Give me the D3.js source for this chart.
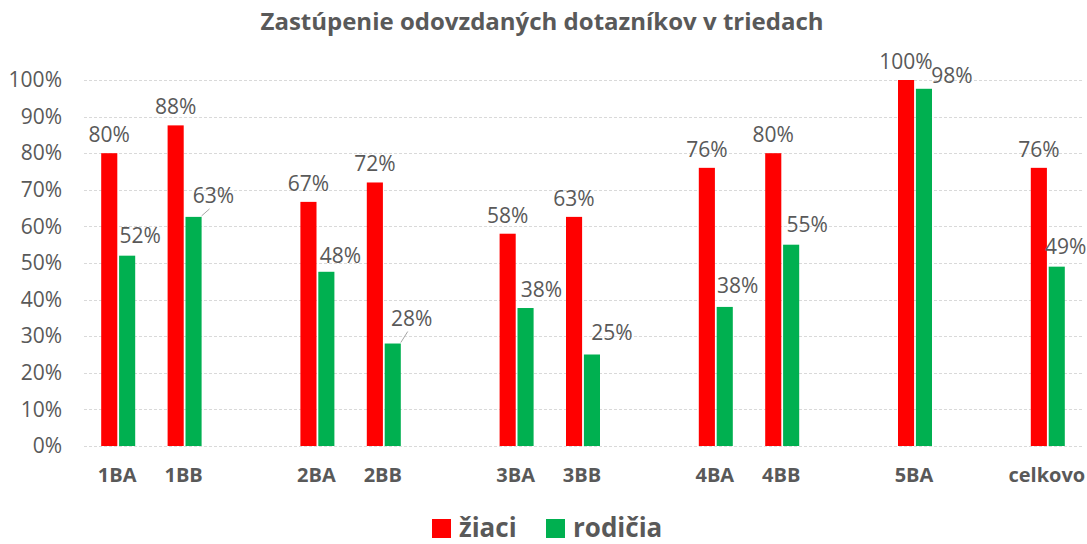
<!DOCTYPE html>
<html>
<head>
<meta charset="utf-8">
<script src="https://cdn.jsdelivr.net/npm/d3@7"></script>
<style>
  body { margin: 0; background: #fff; }
  text { font-family: "Open Sans", sans-serif; }
</style>
</head>
<body>
<div id="chart"></div>
<script>
// data
var categories = ["1BA", "1BB", "", "2BA", "2BB", "", "3BA", "3BB", "", "4BA", "4BB", "", "5BA", "", "celkovo"];
var ziaci   = [0.80, 0.876, null, 0.667, 0.72, null, 0.58, 0.626, null, 0.76, 0.80, null, 1.00, null, 0.76];
var rodicia = [0.52, 0.626, null, 0.476, 0.28, null, 0.377, 0.25, null, 0.38, 0.55, null, 0.976, null, 0.49];
var seriesNames = ["žiaci", "rodičia"];
var yTicks = [0, 0.1, 0.2, 0.3, 0.4, 0.5, 0.6, 0.7, 0.8, 0.9, 1.0];

// label nudges for the green series (moved by hand in the original)
var greenNudge = [[13, -13], [20, -14], null, [14, -9], [19, -18], null, [16, -11], [20, -15], null, [13, -14], [16, -13], null, [28, -6], null, [9, -13]];
var leader = [false, true, false, false, true, false, false, false, false, false, false, false, false, false, false];

var width = 1087, height = 544;
var colors = ["#ff0000", "#00b050"];
var textColor = "#595959";

var svg = d3.select("#chart").append("svg")
    .attr("width", width)
    .attr("height", height);

var x = d3.scaleBand()
    .domain(d3.range(categories.length))
    .range([84, 1080]);

var y = d3.scaleLinear()
    .domain([0, 1])
    .range([446, 80]);

var groupW = 34;
var xSub = d3.scaleBand()
    .domain([0, 1])
    .range([0, groupW])
    .paddingInner(0.1);

function groupLeft(i) {
    return x(i) + (x.bandwidth() - groupW) / 2 + 1;
}

// title
svg.append("text")
    .attr("x", 542)
    .attr("y", 30)
    .attr("text-anchor", "middle")
    .attr("font-size", 24)
    .attr("font-weight", "bold")
    .attr("fill", textColor)
    .text("Zastúpenie odovzdaných dotazníkov v triedach");

// gridlines
svg.append("g")
    .selectAll("line")
    .data(yTicks)
    .enter()
    .append("line")
    .attr("x1", 84)
    .attr("x2", 1082)
    .attr("y1", function(d) { return Math.round(y(d)) + 0.5; })
    .attr("y2", function(d) { return Math.round(y(d)) + 0.5; })
    .attr("stroke", "#d9d9d9")
    .attr("stroke-width", 1)
    .attr("stroke-dasharray", "3,2");

// y axis labels
var yAxis = d3.axisLeft(y)
    .tickValues(yTicks)
    .tickFormat(d3.format(".0%"))
    .tickSize(0)
    .tickPadding(0);

var yg = svg.append("g")
    .attr("transform", "translate(62,0)")
    .call(yAxis);
yg.select(".domain").remove();
yg.selectAll("text")
    .attr("font-size", 21)
    .attr("fill", textColor)
    .attr("font-family", "Open Sans, sans-serif");

// x axis labels
var xAxis = d3.axisBottom(x)
    .tickFormat(function(i) { return categories[i]; })
    .tickSize(0)
    .tickPadding(0);

var xg = svg.append("g")
    .attr("transform", "translate(0,468)")
    .call(xAxis);
xg.select(".domain").remove();
xg.selectAll("text")
    .attr("font-size", 20)
    .attr("font-weight", "bold")
    .attr("fill", textColor)
    .attr("font-family", "Open Sans, sans-serif");

var series = [ziaci, rodicia];
var fmt = d3.format(".0%");

series.forEach(function(values, s) {
    var pts = values.map(function(v, i) { return { i: i, v: v }; })
        .filter(function(d) { return d.v !== null; });

    svg.append("g")
        .selectAll("rect")
        .data(pts)
        .enter()
        .append("rect")
        .attr("x", function(d) { return groupLeft(d.i) + xSub(s); })
        .attr("width", xSub.bandwidth())
        .attr("y", function(d) { return y(d.v); })
        .attr("height", function(d) { return y(0) - y(d.v); })
        .attr("fill", colors[s]);

    var lab = svg.append("g")
        .selectAll("text")
        .data(pts)
        .enter()
        .append("text")
        .attr("text-anchor", "middle")
        .attr("font-size", 21)
        .attr("fill", textColor)
        .text(function(d) { return fmt(d.v); });

    if (s === 0) {
        lab.attr("x", function(d) { return groupLeft(d.i) + xSub(s) + xSub.bandwidth() / 2; })
            .attr("y", function(d) { return y(d.v) - 11; });
    } else {
        lab.attr("x", function(d) { return groupLeft(d.i) + xSub(s) + xSub.bandwidth() / 2 + greenNudge[d.i][0]; })
            .attr("y", function(d) { return y(d.v) + greenNudge[d.i][1]; });

        // leader lines
        svg.append("g")
            .selectAll("line")
            .data(pts.filter(function(d) { return leader[d.i]; }))
            .enter()
            .append("line")
            .attr("x1", function(d) { return groupLeft(d.i) + xSub(s) + xSub.bandwidth(); })
            .attr("y1", function(d) { return y(d.v) - 1; })
            .attr("x2", function(d) { return groupLeft(d.i) + xSub(s) + xSub.bandwidth() / 2 + greenNudge[d.i][0] - 4; })
            .attr("y2", function(d) { return y(d.v) + greenNudge[d.i][1] + 6; })
            .attr("stroke", "#a6a6a6")
            .attr("stroke-width", 1);
    }
});

// legend
var legend = svg.append("g")
    .attr("transform", "translate(432,519)");

var items = legend.selectAll("g")
    .data(seriesNames)
    .enter()
    .append("g")
    .attr("transform", function(d, i) { return "translate(" + (i * 114) + ",0)"; });

items.append("rect")
    .attr("width", 19)
    .attr("height", 19)
    .attr("fill", function(d, i) { return colors[i]; });

items.append("text")
    .attr("x", 27)
    .attr("y", 18)
    .attr("font-size", 26)
    .attr("font-weight", "bold")
    .attr("fill", textColor)
    .text(function(d) { return d; });
</script>
</body>
</html>
